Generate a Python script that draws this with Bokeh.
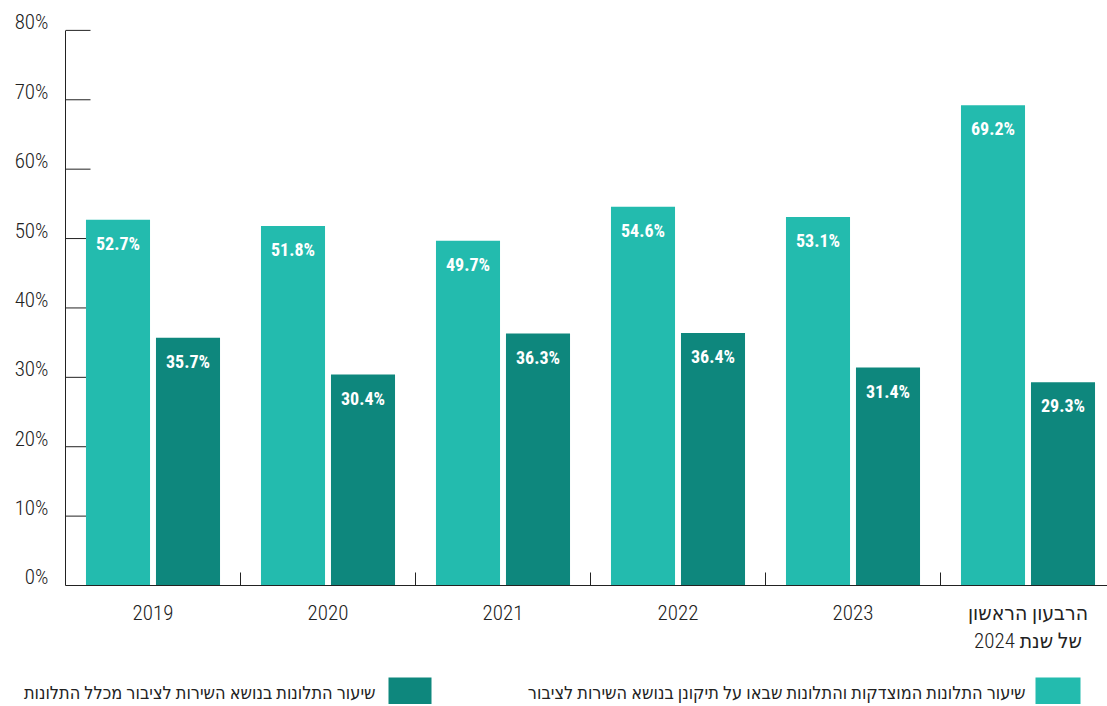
import numpy as np
from bokeh.plotting import figure
from bokeh.models import (ColumnDataSource, Range1d, LinearAxis, FixedTicker)
from bokeh.transform import dodge
from bokeh.layouts import column, row
from bokeh.core.properties import value
from bokeh.embed import file_html
from bokeh.resources import INLINE

# ---- data ----
categories = ["2019", "2020", "2021", "2022", "2023", "הרבעון הראשון\nשל שנת 2024"]
justified = [52.7, 51.8, 49.7, 54.6, 53.1, 69.2]
share_public_service = [35.7, 30.4, 36.3, 36.4, 31.4, 29.3]
series_names = [
    "שיעור התלונות המוצדקות והתלונות שבאו על תיקונן בנושא השירות לציבור",
    "שיעור התלונות בנושא השירות לציבור מכלל התלונות",
]
y_ticks = [0, 10, 20, 30, 40, 50, 60, 70, 80]

# ---- style ----
C_LIGHT = "#23BBAE"
C_DARK = "#0E877D"
FONT = "'Roboto Condensed Light', 'Roboto Condensed', 'DejaVu Sans Condensed', 'DejaVu Sans', sans-serif"
FONT_B = "'Roboto Condensed', 'DejaVu Sans Condensed', 'DejaVu Sans', sans-serif"
TXT = "#222222"

W, H_MAIN, H_LEG = 1107, 664, 40
PX_PER_GROUP = 175
FRAME_LEFT = 65
FRAME_BOTTOM = 585
Y_TOP = 82
PX_PER_UNIT = (FRAME_BOTTOM - 30) / 80
TOP_BORDER = int(round(FRAME_BOTTOM - Y_TOP * PX_PER_UNIT))

n = len(categories)
centers = np.arange(n) + 0.5
x_end = (W - FRAME_LEFT) / PX_PER_GROUP

src = ColumnDataSource(dict(
    x=centers,
    a=justified,
    b=share_public_service,
    a_lab=[f"{v:.1f}%" for v in justified],
    b_lab=[f"{v:.1f}%" for v in share_public_service],
))

p = figure(width=W, height=H_MAIN, output_backend="svg", toolbar_location=None,
           x_range=Range1d(0, x_end), y_range=Range1d(0, Y_TOP),
           y_axis_location=None,
           min_border_left=FRAME_LEFT, min_border_right=0,
           min_border_top=TOP_BORDER, min_border_bottom=H_MAIN - FRAME_BOTTOM)
p.outline_line_color = None
p.grid.visible = False
p.background_fill_color = "white"
p.border_fill_color = "white"

# inward y ticks (drawn behind bars)
tick_len = 25 / PX_PER_GROUP
p.segment(x0=[0] * len(y_ticks), x1=[tick_len] * len(y_ticks),
          y0=y_ticks, y1=y_ticks, line_color=TXT, line_width=1)

# bars
p.vbar(x=dodge("x", -0.2, range=p.x_range), top="a", width=0.366, source=src,
       fill_color=C_LIGHT, line_color=None)
p.vbar(x=dodge("x", 0.2, range=p.x_range), top="b", width=0.366, source=src,
       fill_color=C_DARK, line_color=None)

# value labels
for col, lab, off in (("a", "a_lab", -0.2), ("b", "b_lab", 0.2)):
    p.text(x=dodge("x", off, range=p.x_range), y=col, text=lab, source=src,
           text_align="center", text_baseline="top", y_offset=13,
           text_color="white", text_font=value(FONT_B),
           text_font_size="18px", text_font_style="bold")

# y axis: labels sit ~8px above their ticks -> use a shifted range
shift = 8 / PX_PER_UNIT
p.extra_y_ranges = {"lab": Range1d(-shift, Y_TOP - shift)}
la = LinearAxis(y_range_name="lab", ticker=FixedTicker(ticks=y_ticks),
                major_label_overrides={v: f"{v}%" for v in y_ticks},
                bounds=(-shift, 80 - shift))
la.axis_line_color = TXT
la.major_tick_line_color = None
la.minor_tick_line_color = None
la.major_tick_out = 0
la.major_tick_in = 0
la.major_label_text_font = FONT
la.major_label_text_font_size = "21px"
la.major_label_text_color = TXT
la.major_label_standoff = 17
p.add_layout(la, "left")

# x axis
xa = p.xaxis[0]
xa.ticker = FixedTicker(ticks=list(centers), minor_ticks=list(np.arange(1, n)))
xa.major_label_overrides = {float(c): lab for c, lab in zip(centers, categories)}
xa.axis_line_color = TXT
xa.major_tick_line_color = None
xa.major_tick_in = 0
xa.major_tick_out = 0
xa.minor_tick_line_color = TXT
xa.minor_tick_in = 13
xa.minor_tick_out = 0
xa.major_label_text_font = FONT
xa.major_label_text_font_size = "21px"
xa.major_label_text_color = TXT
xa.major_label_standoff = 15

# ---- legend (right-to-left), full-width frame ----
leg = figure(width=W, height=H_LEG, output_backend="svg", toolbar_location=None,
             x_range=Range1d(0, W), y_range=Range1d(0, H_LEG),
             x_axis_location=None, y_axis_location=None,
             min_border=0, min_border_left=0, min_border_right=0,
             min_border_top=0, min_border_bottom=0)
leg.outline_line_color = None
leg.grid.visible = False
leg_src = ColumnDataSource(dict(
    sx=[1057.5, 409.5], sy=[13.5, 13.5], sw=[45, 43], sh=[27, 27],
    tx=[1025, 375], ty=[12, 12],
    color=[C_LIGHT, C_DARK], name=series_names,
))
leg.rect(x="sx", y="sy", width="sw", height="sh", fill_color="color",
         line_color=None, source=leg_src)
leg.text(x="tx", y="ty", text="name", source=leg_src, text_align="right",
         text_baseline="middle", text_color=TXT,
         text_font=value(FONT), text_font_size="18px")

layout = column(p, row(leg, spacing=0), spacing=0)
open("out.html", "w").write(file_html(layout, INLINE))
